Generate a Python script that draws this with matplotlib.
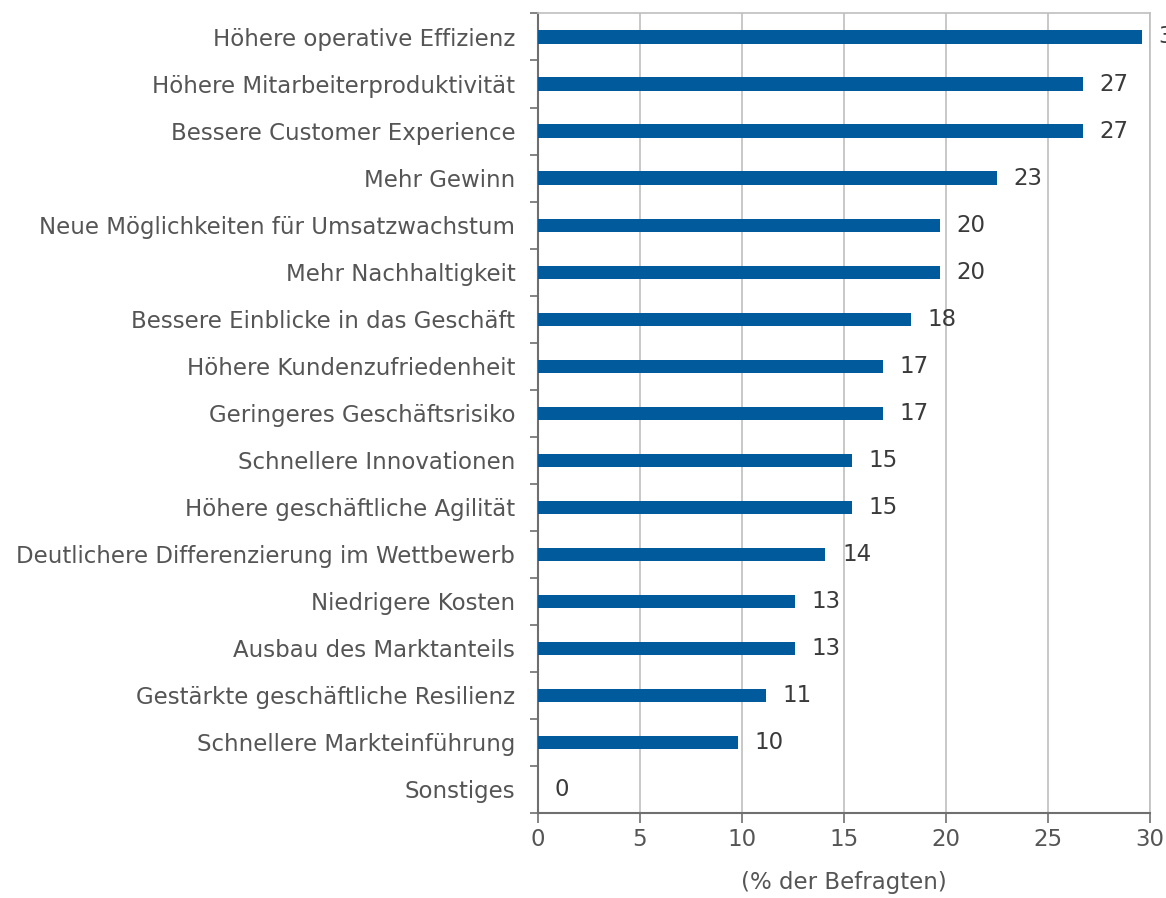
import matplotlib
matplotlib.use("Agg")
import matplotlib.pyplot as plt

categories = [
    "Höhere operative Effizienz",
    "Höhere Mitarbeiterproduktivität",
    "Bessere Customer Experience",
    "Mehr Gewinn",
    "Neue Möglichkeiten für Umsatzwachstum",
    "Mehr Nachhaltigkeit",
    "Bessere Einblicke in das Geschäft",
    "Höhere Kundenzufriedenheit",
    "Geringeres Geschäftsrisiko",
    "Schnellere Innovationen",
    "Höhere geschäftliche Agilität",
    "Deutlichere Differenzierung im Wettbewerb",
    "Niedrigere Kosten",
    "Ausbau des Marktanteils",
    "Gestärkte geschäftliche Resilienz",
    "Schnellere Markteinführung",
    "Sonstiges",
]
values = [29.6, 26.7, 26.7, 22.5, 19.7, 19.7, 18.3, 16.9, 16.9,
          15.4, 15.4, 14.1, 12.6, 12.6, 11.2, 9.8, 0.0]
value_labels = ["30", "27", "27", "23", "20", "20", "18", "17", "17",
                "15", "15", "14", "13", "13", "11", "10", "0"]
xticks = [0, 5, 10, 15, 20, 25, 30]

text_color = "#555555"
bar_color = "#005a9c"
dark_axis = "#6f6f6f"
light_axis = "#bfbfbf"

plt.rcParams["font.family"] = ["DejaVu Sans"]

fig = plt.figure(figsize=(11.66, 8.98), dpi=100)
ax = fig.add_axes([0.461, 0.0947, 0.5253, 0.8903])

pos = list(range(len(categories)))
ax.barh(pos, values, height=0.28, color=bar_color, zorder=3)

for p, v, lab in zip(pos, values, value_labels):
    ax.annotate(lab, (v, p), xytext=(12, 0), textcoords="offset points",
                va="center", ha="left", fontsize=16.5, color="#3a3a3a",
                annotation_clip=False)

ax.set_ylim(len(categories) - 0.5, -0.5)
ax.set_xlim(0, 30)
ax.set_yticks(pos)
ax.set_yticklabels(categories)
ax.set_yticks([p - 0.5 for p in pos] + [len(categories) - 0.5], minor=True)
ax.tick_params(axis="y", which="major", length=0, pad=16, labelsize=16.5,
               labelcolor=text_color)
ax.tick_params(axis="y", which="minor", length=6, width=1.2, color=dark_axis)
ax.set_xticks(xticks)
ax.tick_params(axis="x", length=7, width=1.2, color=dark_axis, labelsize=16.5,
               labelcolor=text_color, pad=4)
ax.set_xlabel("(% der Befragten)", fontsize=16.5, color=text_color, labelpad=14)

ax.grid(axis="x", color=light_axis, linewidth=1.2, zorder=0)
ax.spines["left"].set_color(dark_axis)
ax.spines["bottom"].set_color(dark_axis)
ax.spines["left"].set_linewidth(1.5)
ax.spines["bottom"].set_linewidth(1.5)
ax.spines["top"].set_color(light_axis)
ax.spines["right"].set_color(light_axis)
ax.spines["top"].set_linewidth(1.2)
ax.spines["right"].set_linewidth(1.2)

fig.savefig("out.png", dpi=100)
